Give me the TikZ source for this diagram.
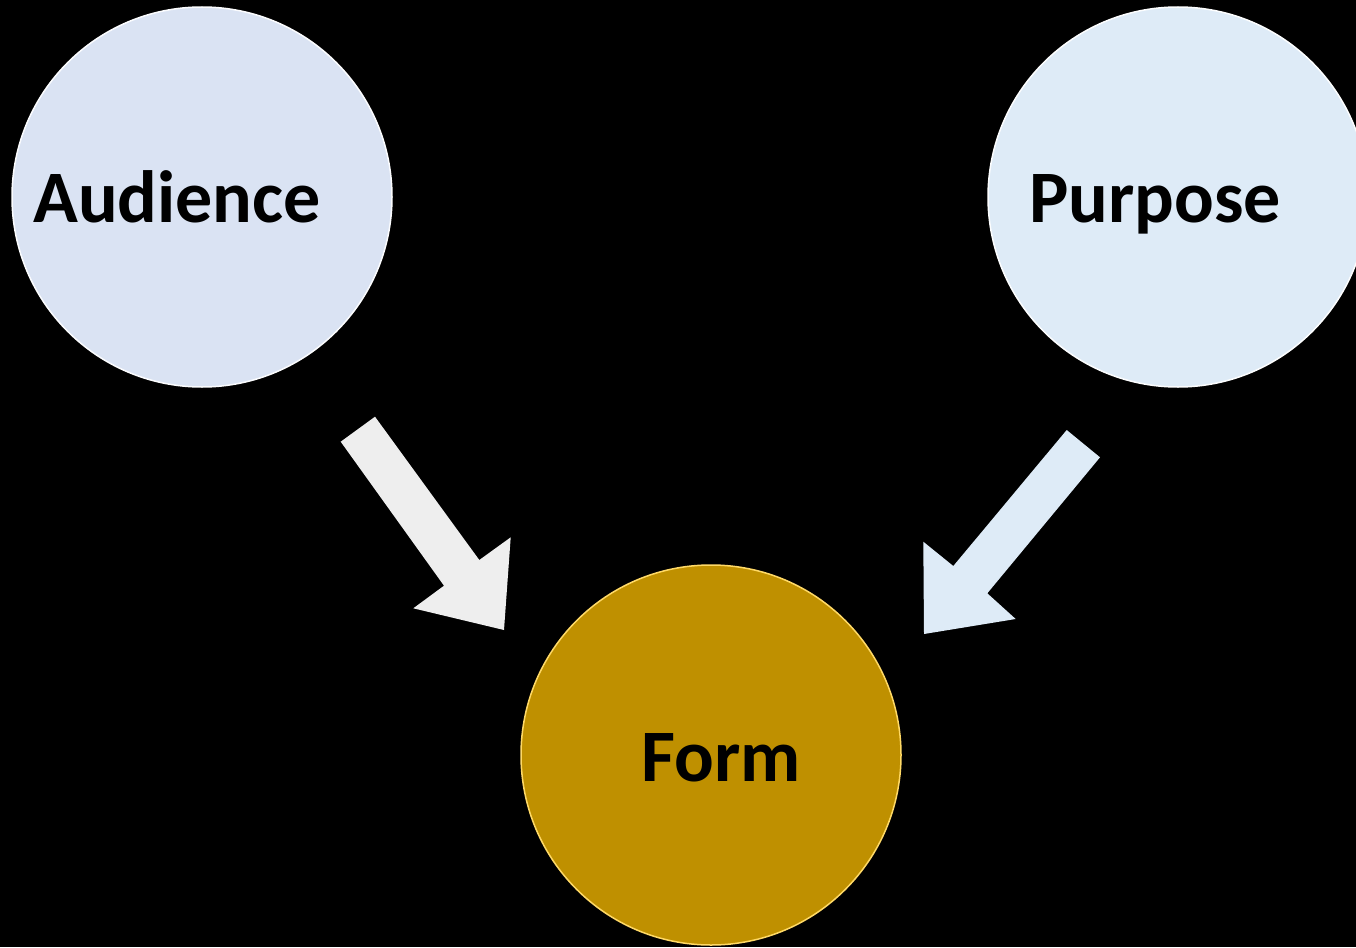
\documentclass[tikz,border=0pt]{standalone}
\usepackage{fontspec}
\setmainfont{Carlito}
\definecolor{audfill}{HTML}{DAE3F3}
\definecolor{purfill}{HTML}{DEEBF7}
\definecolor{formfill}{HTML}{BF9000}
\definecolor{formline}{HTML}{FFD966}
\definecolor{arrgray}{HTML}{EEEEEE}
\begin{document}
\begin{tikzpicture}[x=1pt,y=-1pt,
  circ/.style={circle,minimum size=380pt,inner sep=0pt,line width=1.5pt},
  lbl/.style={anchor=base,inner sep=0pt,font=\fontsize{74}{80}\selectfont\bfseries,text=black}]
\fill[black] (0,0) rectangle (1356,947);
\useasboundingbox (0,0) rectangle (1356,947);
\clip (0,0) rectangle (1356,947);
\node[circ,fill=audfill,draw=white!90!audfill] (aud) at (202,197) {};
\node[circ,fill=purfill,draw=white!90!purfill] (pur) at (1178,197) {};
\node[circ,fill=formfill,draw=formline] (form) at (711,755) {};
\node[lbl] (audt) at (177,222) {Audience};
\node[lbl] (purt) at (1155,222) {Purpose};
\node[lbl] (formt) at (721,781) {Form};
\fill[arrgray] (340.7,441.7) -- (375,416.7) -- (479.3,560) -- (510.7,537.3) -- (504,630) -- (413.3,608.3) -- (444,585.7) -- cycle;
\fill[purfill] (1066.7,430) -- (1100,457.3) -- (987.3,593.3) -- (1015.7,619) -- (924,634) -- (923.3,541.7) -- (953.3,566) -- cycle;
\end{tikzpicture}
\end{document}
